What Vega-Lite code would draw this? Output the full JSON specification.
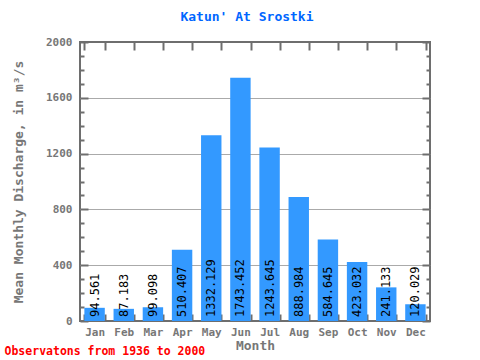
{
  "$schema": "https://vega.github.io/schema/vega-lite/v6.json",
  "padding": {"left": 4, "top": 10, "right": 5, "bottom": 5},
  "background": "white",
  "title": {"text": "Observatons from 1936 to 2000", "orient": "bottom", "anchor": "start", "color": "#ff0000", "font": "DejaVu Sans Mono", "fontSize": 11.5, "fontWeight": "bold", "offset": -7, "dx": -7},
  "vconcat": [
    {
      "title": {"text": "Katun' At Srostki", "color": "#0066ff", "font": "DejaVu Sans Mono", "fontSize": 13, "fontWeight": "bold", "anchor": "middle", "dx": -8, "offset": 12},
      "width": 350,
      "height": 279,
      "data": {"values": [
        {"month": "Jan", "q": 94.561},
        {"month": "Feb", "q": 87.183},
        {"month": "Mar", "q": 99.098},
        {"month": "Apr", "q": 510.407},
        {"month": "May", "q": 1332.129},
        {"month": "Jun", "q": 1743.452},
        {"month": "Jul", "q": 1243.645},
        {"month": "Aug", "q": 888.984},
        {"month": "Sep", "q": 584.645},
        {"month": "Oct", "q": 423.032},
        {"month": "Nov", "q": 241.133},
        {"month": "Dec", "q": 120.029}
      ]},
      "layer": [
        {
          "mark": {"type": "bar", "color": "#3399ff"},
          "encoding": {
            "x": {"field": "month", "type": "nominal", "sort": null,
                  "scale": {"paddingInner": 0.3, "paddingOuter": 0.15},
                  "axis": {"orient": "bottom", "title": "Month", "labelAngle": 0, "tickBand": "extent", "tickSize": -7, "domain": false,
                           "labelPadding": 12, "titlePadding": 2}},
            "y": {"field": "q", "type": "quantitative",
                  "scale": {"domain": [0, 2000], "nice": false},
                  "axis": {"orient": "left", "title": "Mean Monthly Discharge, in m³/s",
                           "values": [0,100,200,300,400,500,600,700,800,900,1000,1100,1200,1300,1400,1500,1600,1700,1800,1900,2000],
                           "labelExpr": "datum.value % 400 === 0 ? datum.value : ''",
                           "tickSize": {"condition": {"test": "datum.value % 400 === 0", "value": -8}, "value": -4},
                           "grid": true,
                           "gridOpacity": {"condition": {"test": "datum.value % 400 === 0 && datum.value > 0 && datum.value < 2000", "value": 1}, "value": 0},
                           "domain": false, "labelPadding": 16, "titlePadding": 20}}
          }
        },
        {
          "mark": {"type": "text", "angle": 270, "align": "left", "baseline": "middle", "dx": 4, "font": "DejaVu Sans Mono", "fontSize": 12, "color": "black"},
          "encoding": {
            "x": {"field": "month", "type": "nominal", "sort": null,
                  "axis": {"orient": "top", "title": null, "labels": false, "tickBand": "extent", "tickSize": -8, "domain": false}},
            "y": {"datum": 0, "type": "quantitative",
                  "axis": {"orient": "right", "title": null, "labels": false,
                           "values": [0,100,200,300,400,500,600,700,800,900,1000,1100,1200,1300,1400,1500,1600,1700,1800,1900,2000],
                           "tickSize": {"condition": {"test": "datum.value % 400 === 0", "value": -8}, "value": -4},
                           "domain": false, "grid": false}},
            "text": {"field": "q", "type": "nominal"}
          }
        }
      ],
      "resolve": {"axis": {"x": "independent", "y": "independent"}}
    }
  ],
  "config": {
    "view": {"stroke": "#6e6e6e", "strokeWidth": 2},
    "axis": {"labelFont": "DejaVu Sans Mono", "labelFontSize": 11, "labelFontWeight": "bold", "labelColor": "#777777",
             "titleFont": "DejaVu Sans Mono", "titleFontSize": 13, "titleFontWeight": "bold", "titleColor": "#777777",
             "tickColor": "#6e6e6e", "tickWidth": 2, "gridColor": "#aaaaaa", "gridWidth": 1}
  }
}
